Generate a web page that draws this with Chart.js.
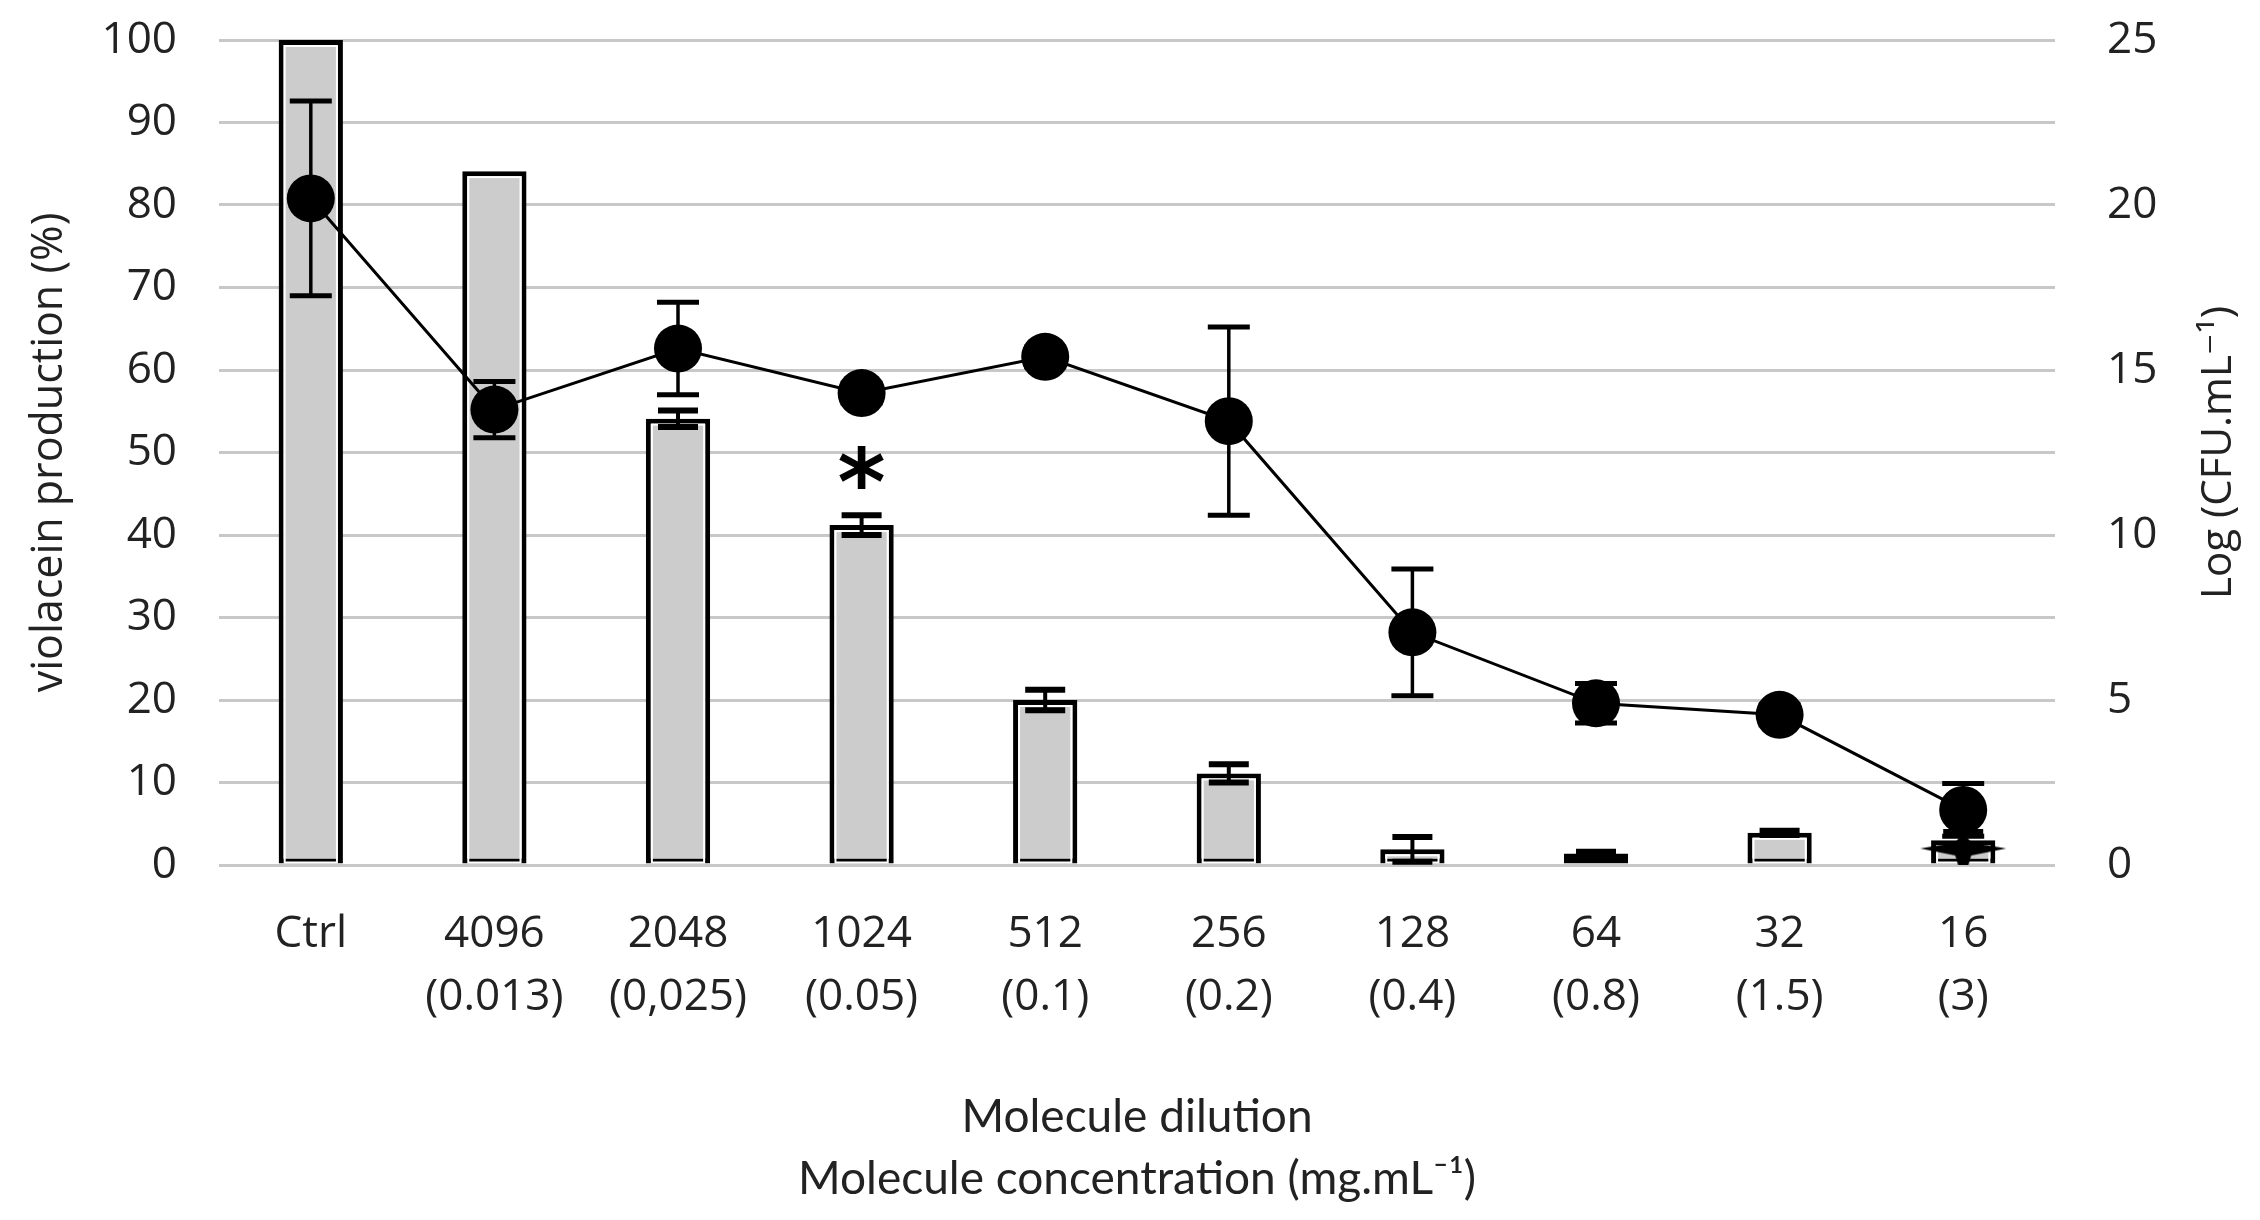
<!DOCTYPE html>
<html>
<head>
<meta charset="utf-8">
<title>Violacein production and Log CFU</title>
<script src="https://cdn.jsdelivr.net/npm/chart.js@4.4.1/dist/chart.umd.min.js"></script>
<style>
    html, body { margin: 0; padding: 0; background: #fff; }
    canvas { display: block; }
</style>
</head>
<body>
<canvas id="violaceinChart" width="2260" height="1220"></canvas>
<script>
// Dilutions and matching concentrations (mg.mL-1)
const categories = ['Ctrl', '4096', '2048', '1024', '512', '256', '128', '64', '32', '16'];
const concentrations = ['', '(0.013)', '(0,025)', '(0.05)', '(0.1)', '(0.2)', '(0.4)', '(0.8)', '(1.5)', '(3)'];

// Bars: violacein production (%), left axis
const violacein = [100, 84.1, 54.1, 41.2, 20.0, 11.1, 1.9, 1.4, 3.9, 3.0];
const violaceinErr = [0, 0, 1.0, 1.2, 1.25, 1.1, 1.5, 0.2, 0.25, 1.0];

// Line: Log (CFU.mL-1), right axis
const logCfu = [20.2, 13.8, 15.65, 14.3, 15.4, 13.45, 7.05, 4.9, 4.55, 1.67];
const logCfuErr = [2.95, 0.85, 1.4, 0.3, 0.3, 2.85, 1.92, 0.6, 0.3, 0.8];

// Significance marks above the bars
const significance = ['', '', '', '*', '', '', '', '', '', ''];

// Odd star marker sitting on the last bar (right axis)
const starMarker = [null, null, null, null, null, null, null, null, null, 0.5];

const leftTicks = { min: 0, max: 100, step: 10 };
const rightTicks = { min: 0, max: 25, step: 5 };

const tickFont = { family: '"Open Sans", "DejaVu Sans", sans-serif', size: 44 };
const textColor = '#222222';

// four-point star drawn once, used as a point style
function makeStar() {
    const c = document.createElement('canvas');
    c.width = 90;
    c.height = 90;
    const g = c.getContext('2d');
    g.translate(45, 45);
    g.fillStyle = '#000';
    g.beginPath();
    g.moveTo(-43, 0);
    g.lineTo(-8, -6);
    g.lineTo(0, -16);
    g.lineTo(8, -6);
    g.lineTo(43, 0);
    g.lineTo(8, 7);
    g.lineTo(0, 34);
    g.lineTo(-8, 7);
    g.closePath();
    g.fill();
    return c;
}

function drawErrorBar(ctx, x, yTop, yBot, half, capWidth, stemWidth) {
    ctx.lineWidth = stemWidth;
    ctx.beginPath();
    ctx.moveTo(x, yTop);
    ctx.lineTo(x, yBot);
    ctx.stroke();
    ctx.lineWidth = capWidth;
    ctx.beginPath();
    ctx.moveTo(x - half, yTop);
    ctx.lineTo(x + half, yTop);
    ctx.moveTo(x - half, yBot);
    ctx.lineTo(x + half, yBot);
    ctx.stroke();
}

const errorBarsPlugin = {
    id: 'errorBars',
    afterDatasetDraw(chart, args) {
        if (args.index !== 0) return;
        const ctx = chart.ctx;
        const meta = chart.getDatasetMeta(0);
        const yScale = chart.scales.y;
        ctx.save();
        // thin white line just inside the bar border
        ctx.strokeStyle = '#ffffff';
        ctx.lineWidth = 2;
        meta.data.forEach((bar) => {
            const p = bar.getProps(['x', 'y', 'base', 'width'], true);
            const h = p.base - p.y;
            if (h > 14) {
                ctx.strokeRect(p.x - p.width / 2 + 6, p.y + 6, p.width - 12, h - 7);
            }
        });
        ctx.strokeStyle = '#000';
        meta.data.forEach((bar, i) => {
            const e = violaceinErr[i];
            if (!e) return;
            const yTop = yScale.getPixelForValue(violacein[i] + e);
            const yBot = yScale.getPixelForValue(Math.max(violacein[i] - e, 0));
            drawErrorBar(ctx, bar.x, yTop, yBot, 20, 6, 4);
        });
        ctx.restore();
    },
    beforeDatasetDraw(chart, args) {
        if (args.index !== 1) return;
        const ctx = chart.ctx;
        const meta = chart.getDatasetMeta(1);
        const yScale = chart.scales.y1;
        ctx.save();
        ctx.strokeStyle = '#000';
        meta.data.forEach((pt, i) => {
            const e = logCfuErr[i];
            const yTop = yScale.getPixelForValue(logCfu[i] + e);
            const yBot = yScale.getPixelForValue(logCfu[i] - e);
            drawErrorBar(ctx, pt.x, yTop, yBot, 21, 5, 3.5);
        });
        ctx.restore();
    },
    afterDatasetsDraw(chart) {
        const ctx = chart.ctx;
        const meta = chart.getDatasetMeta(0);
        const yScale = chart.scales.y;
        ctx.save();
        ctx.fillStyle = '#000';
        ctx.font = 'bold 92px "DejaVu Sans", sans-serif';
        ctx.textAlign = 'center';
        ctx.textBaseline = 'alphabetic';
        significance.forEach((mark, i) => {
            if (!mark) return;
            const y = yScale.getPixelForValue(violacein[i] + violaceinErr[i]);
            ctx.fillText(mark, meta.data[i].x, y);
        });
        ctx.restore();
    }
};

// right axis title reads bottom to top, so it is drawn here
const rightTitlePlugin = {
    id: 'rightTitle',
    afterDraw(chart) {
        const ctx = chart.ctx;
        const area = chart.chartArea;
        const s = chart.scales.y1;
        ctx.save();
        ctx.translate(s.right - 41, (area.top + area.bottom) / 2);
        ctx.rotate(-Math.PI / 2);
        ctx.fillStyle = textColor;
        ctx.font = '42px "Open Sans", "DejaVu Sans", sans-serif';
        ctx.textAlign = 'center';
        ctx.textBaseline = 'middle';
        ctx.fillText('Log (CFU.mL\u207B\u00B9)', 0, 0);
        ctx.restore();
    }
};

const whiteBackground = {
    id: 'whiteBackground',
    beforeDraw(chart) {
        const ctx = chart.ctx;
        ctx.save();
        ctx.fillStyle = '#ffffff';
        ctx.fillRect(0, 0, chart.width, chart.height);
        ctx.restore();
    }
};

const xLabels = categories.map((c, i) => [c, concentrations[i]]);

const ctx = document.getElementById('violaceinChart').getContext('2d');
const violaceinChart = new Chart(ctx, {
    type: 'bar',
    data: {
        labels: xLabels,
        datasets: [
            {
                label: 'violacein production (%)',
                data: violacein,
                yAxisID: 'y',
                backgroundColor: '#cccccc',
                borderColor: '#000000',
                borderWidth: 5,
                borderSkipped: false,
                barPercentage: 0.35,
                categoryPercentage: 1,
                order: 2
            },
            {
                type: 'line',
                label: 'Log (CFU.mL-1)',
                data: logCfu,
                yAxisID: 'y1',
                borderColor: '#000000',
                borderWidth: 3,
                backgroundColor: '#000000',
                pointRadius: 24,
                pointBorderWidth: 0,
                tension: 0,
                order: 1
            },
            {
                type: 'line',
                label: 'marker',
                data: starMarker,
                yAxisID: 'y1',
                showLine: false,
                pointStyle: makeStar(),
                order: 0
            }
        ]
    },
    options: {
        responsive: false,
        devicePixelRatio: 1,
        animation: false,
        layout: {
            padding: { top: 40, left: 0, right: 0, bottom: 0 }
        },
        plugins: {
            legend: { display: false },
            tooltip: { enabled: false }
        },
        scales: {
            x: {
                grid: { display: false },
                border: { display: false },
                ticks: {
                    color: textColor,
                    font: { ...tickFont, lineHeight: 1.43 },
                    padding: 30,
                    maxRotation: 0,
                    autoSkip: false
                },
                title: {
                    display: true,
                    text: ['Molecule dilution', 'Molecule concentration (mg.mL\u207B\u00B9)'],
                    color: textColor,
                    font: { family: 'Lato, "Open Sans", sans-serif', size: 46, lineHeight: 1.35 },
                    padding: { top: 0, bottom: 10 }
                },
                afterFit(scale) { scale.height = 355; }
            },
            y: {
                position: 'left',
                min: leftTicks.min,
                max: leftTicks.max,
                grid: { color: '#c8c8c8', lineWidth: 3, drawTicks: false },
                border: { display: false },
                ticks: {
                    stepSize: leftTicks.step,
                    color: textColor,
                    font: tickFont,
                    padding: 42
                },
                title: {
                    display: true,
                    text: 'violacein production (%)',
                    color: textColor,
                    font: { family: '"Open Sans", "DejaVu Sans", sans-serif', size: 43, lineHeight: 1.2 },
                    padding: { top: 24, bottom: 0 }
                },
                afterFit(scale) {
                    scale.width = 219;
                    scale.paddingTop = 0;
                    scale.paddingBottom = 0;
                }
            },
            y1: {
                position: 'right',
                min: rightTicks.min,
                max: rightTicks.max,
                grid: { display: false, drawTicks: false },
                border: { display: false },
                ticks: {
                    stepSize: rightTicks.step,
                    color: textColor,
                    font: tickFont,
                    padding: 52
                },
                afterFit(scale) {
                    scale.width = 205;
                    scale.paddingTop = 0;
                    scale.paddingBottom = 0;
                }
            }
        }
    },
    plugins: [whiteBackground, errorBarsPlugin, rightTitlePlugin]
});
</script>
</body>
</html>
